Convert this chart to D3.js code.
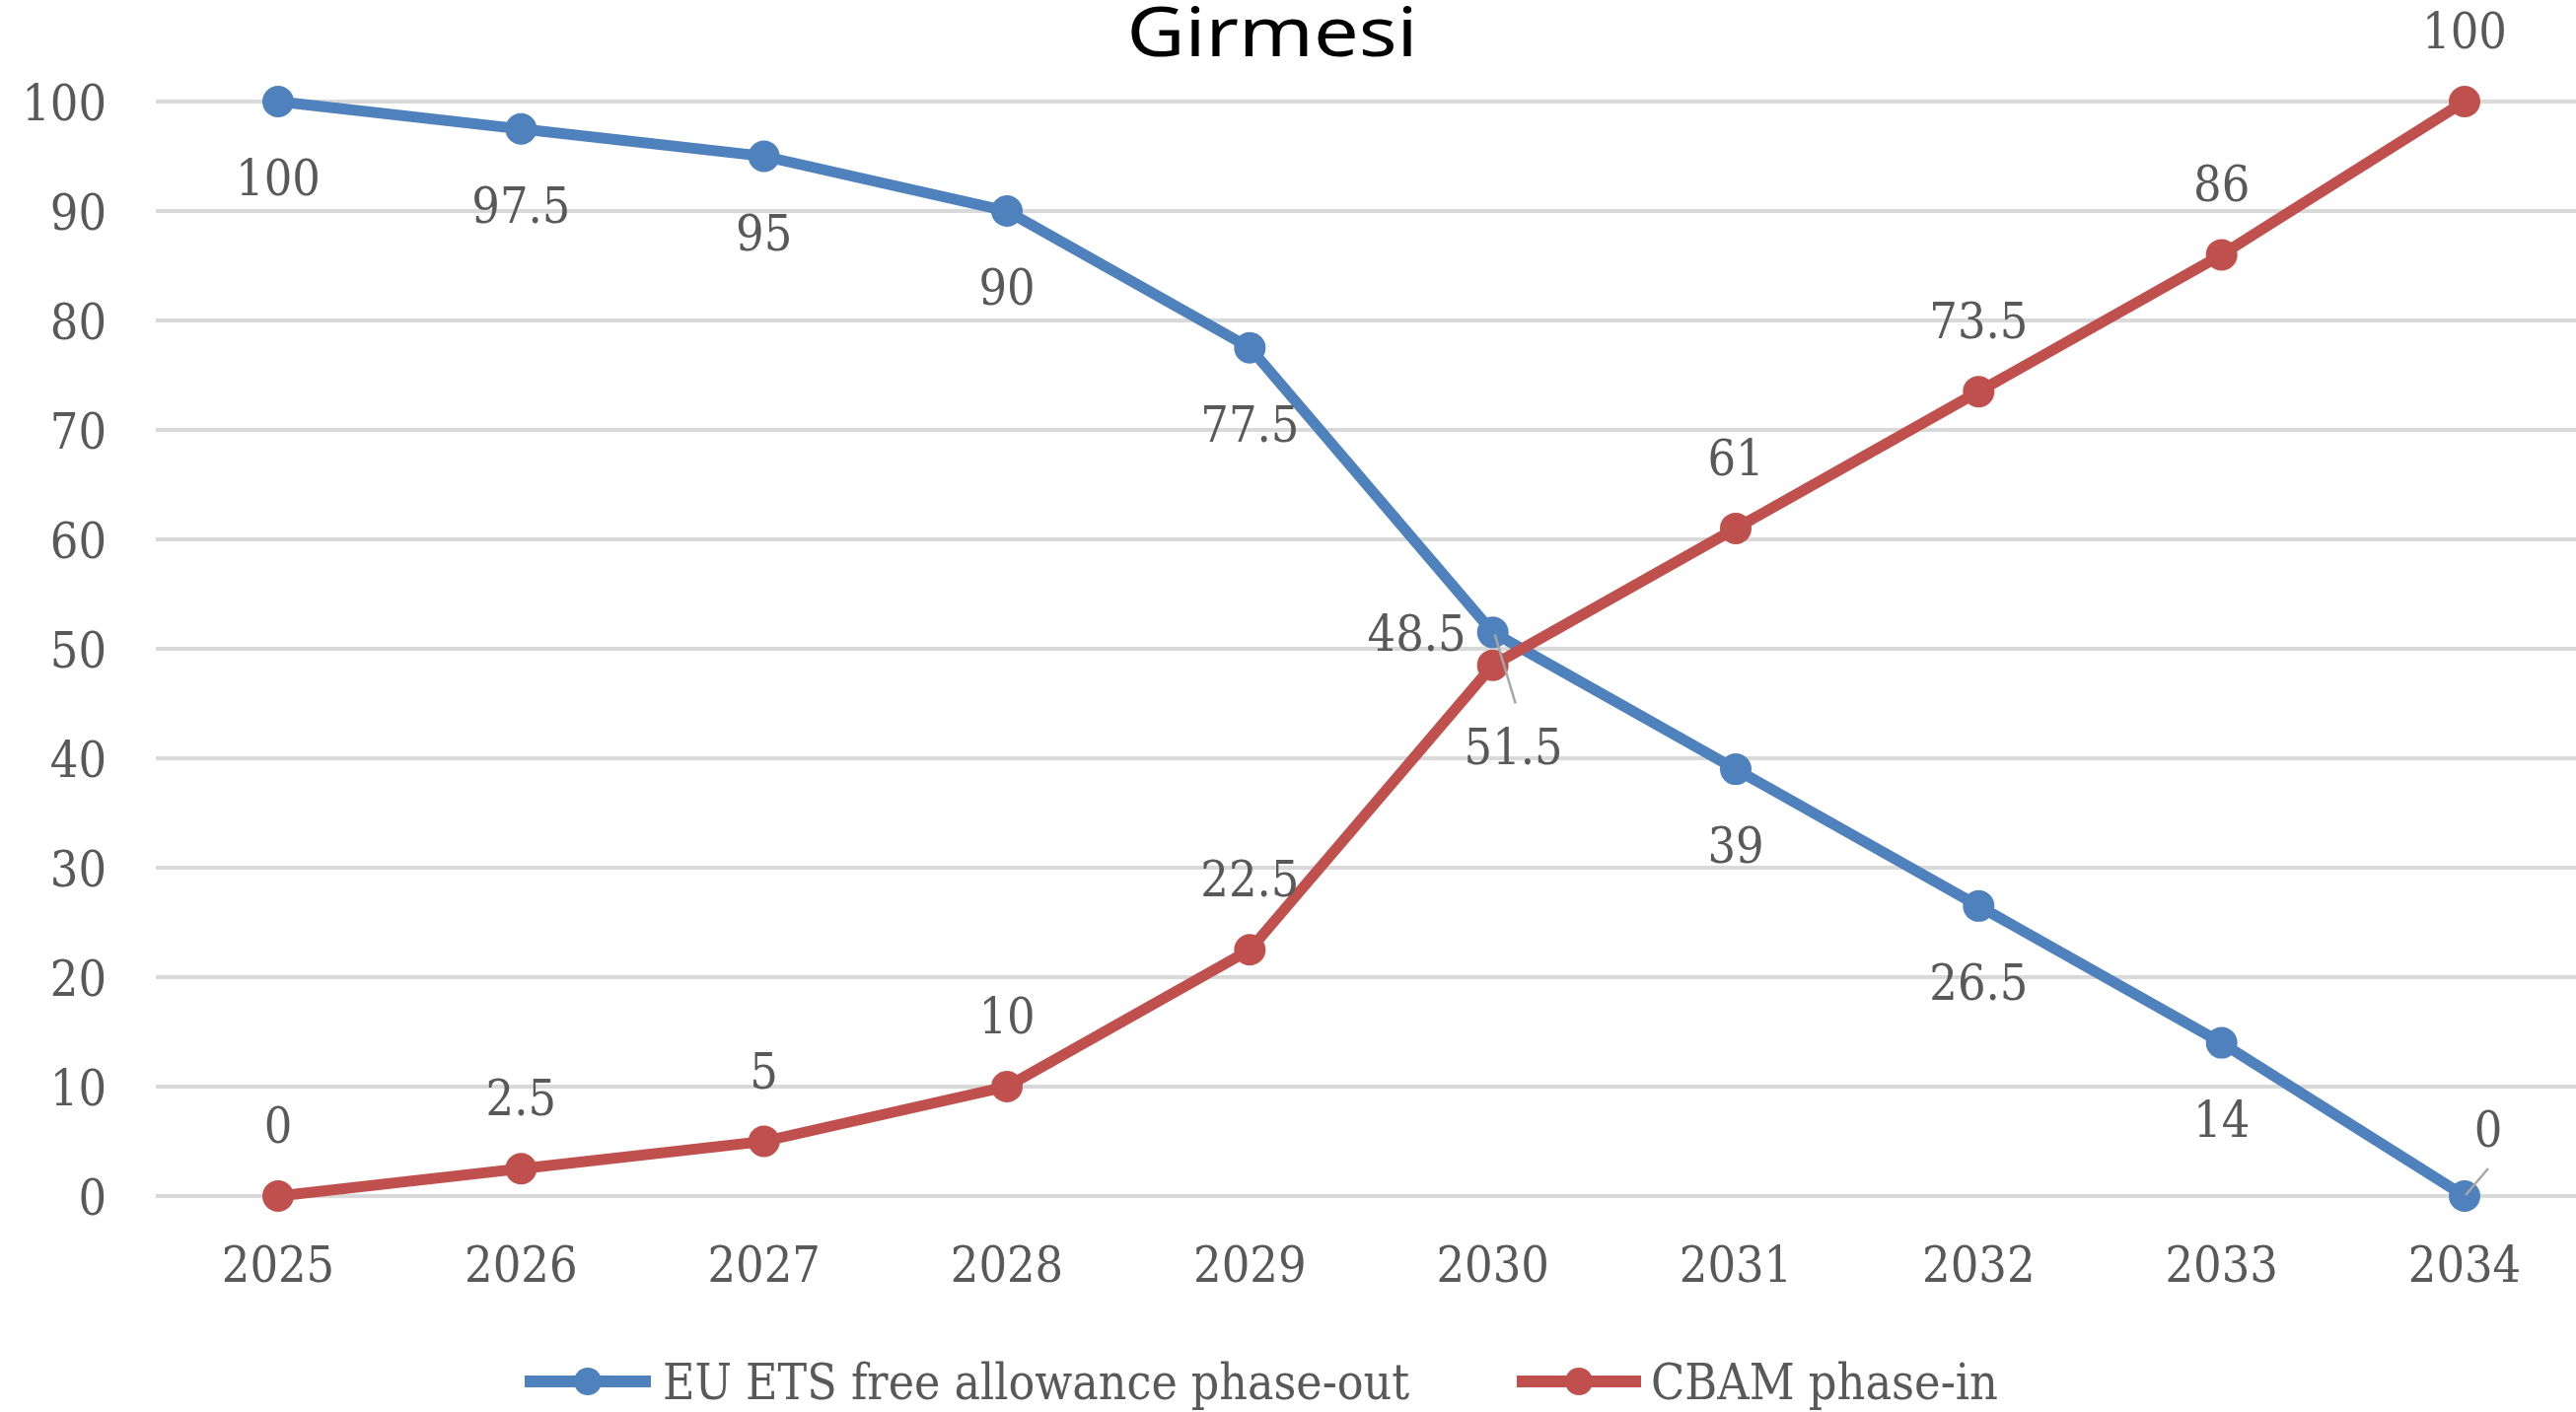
<!DOCTYPE html>
<html>
<head>
<meta charset="utf-8">
<script src="https://cdn.jsdelivr.net/npm/d3@7"></script>
<style>
  body { margin: 0; background: #fff; }
  svg { display: block; }
  .lbl { font-family: "DejaVu Serif Condensed", "DejaVu Serif", serif; font-stretch: condensed; fill: #595959; }
</style>
</head>
<body>
<script>
// data
var years = [2025, 2026, 2027, 2028, 2029, 2030, 2031, 2032, 2033, 2034];
var etsValues = [100, 97.5, 95, 90, 77.5, 51.5, 39, 26.5, 14, 0];
var cbamValues = [0, 2.5, 5, 10, 22.5, 48.5, 61, 73.5, 86, 100];
var yTicks = [0, 10, 20, 30, 40, 50, 60, 70, 80, 90, 100];
var seriesNames = ["EU ETS free allowance phase-out", "CBAM phase-in"];

function init() {
    var W = 2612, H = 1432;
    var blue = "#4f81bd", red = "#c0504d";

    var svg = d3.select("body").append("svg")
        .attr("width", W)
        .attr("height", H);

    // scales
    var x = d3.scalePoint()
        .domain(years)
        .range([282, 2499]);

    var y = d3.scaleLinear()
        .domain([0, 100])
        .range([1213, 103]);

    // title (only the last line is visible)
    svg.append("text")
        .attr("x", 1290)
        .attr("y", 57)
        .attr("text-anchor", "middle")
        .attr("font-family", "'Noto Sans', sans-serif")
        .attr("font-size", 70)
        .attr("textLength", 295)
        .attr("lengthAdjust", "spacingAndGlyphs")
        .attr("fill", "#000")
        .text("Girmesi");

    // gridlines
    svg.append("g").selectAll("line")
        .data(yTicks)
        .enter().append("line")
        .attr("x1", 158)
        .attr("x2", W)
        .attr("y1", function(d) { return y(d); })
        .attr("y2", function(d) { return y(d); })
        .attr("stroke", "#d9d9d9")
        .attr("stroke-width", 4);

    // y axis labels
    svg.append("g").selectAll("text")
        .data(yTicks)
        .enter().append("text")
        .attr("class", "lbl")
        .attr("x", 108)
        .attr("y", function(d) { return y(d) + 19; })
        .attr("text-anchor", "end")
        .attr("font-size", 50)
        .text(function(d) { return d; });

    // x axis labels
    svg.append("g").selectAll("text")
        .data(years)
        .enter().append("text")
        .attr("class", "lbl")
        .attr("x", function(d) { return x(d); })
        .attr("y", 1300)
        .attr("text-anchor", "middle")
        .attr("font-size", 50)
        .text(function(d) { return d; });

    var line = d3.line()
        .x(function(d, i) { return x(years[i]); })
        .y(function(d) { return y(d); });

    function drawSeries(values, color) {
        var g = svg.append("g");
        g.append("path")
            .datum(values)
            .attr("d", line)
            .attr("fill", "none")
            .attr("stroke", color)
            .attr("stroke-width", 11)
            .attr("stroke-linejoin", "round");
        g.selectAll("circle")
            .data(values)
            .enter().append("circle")
            .attr("cx", function(d, i) { return x(years[i]); })
            .attr("cy", function(d) { return y(d); })
            .attr("r", 16)
            .attr("fill", color);
    }

    drawSeries(etsValues, blue);
    drawSeries(cbamValues, red);

    // leader lines for moved labels
    var leaders = [
        [x(2030) + 2, y(51.5) + 2, x(2030) + 23, y(51.5) + 72],
        [x(2034) + 1, y(0) - 1, x(2034) + 24, y(0) - 28]
    ];
    svg.append("g").selectAll("line")
        .data(leaders)
        .enter().append("line")
        .attr("x1", function(d) { return d[0]; })
        .attr("y1", function(d) { return d[1]; })
        .attr("x2", function(d) { return d[2]; })
        .attr("y2", function(d) { return d[3]; })
        .attr("stroke", "#a6a6a6")
        .attr("stroke-width", 2.5);

    // data labels: blue below, red above, a few moved by hand
    svg.append("g").selectAll("text")
        .data(etsValues)
        .enter().append("text")
        .attr("class", "lbl")
        .attr("font-size", 50)
        .attr("text-anchor", "middle")
        .attr("x", function(d, i) {
            if (years[i] === 2030) return x(years[i]) + 21;
            if (years[i] === 2034) return x(years[i]) + 24;
            return x(years[i]);
        })
        .attr("y", function(d, i) {
            if (years[i] === 2030) return y(d) + 134;
            if (years[i] === 2034) return y(d) - 50;
            return y(d) + 95;
        })
        .text(function(d) { return d; });

    svg.append("g").selectAll("text")
        .data(cbamValues)
        .enter().append("text")
        .attr("class", "lbl")
        .attr("font-size", 50)
        .attr("text-anchor", function(d, i) { return years[i] === 2030 ? "end" : "middle"; })
        .attr("x", function(d, i) {
            if (years[i] === 2030) return x(years[i]) - 27;
            return x(years[i]);
        })
        .attr("y", function(d, i) {
            if (years[i] === 2030) return y(d) - 15;
            return y(d) - 54;
        })
        .text(function(d) { return d; });

    // legend
    var legendItems = [
        { name: seriesNames[0], color: blue, x0: 532, x1: 660, tx: 672, tw: 757 },
        { name: seriesNames[1], color: red, x0: 1538, x1: 1664, tx: 1674, tw: 352 }
    ];
    var lg = svg.append("g").selectAll("g")
        .data(legendItems)
        .enter().append("g");
    lg.append("line")
        .attr("x1", function(d) { return d.x0; })
        .attr("x2", function(d) { return d.x1; })
        .attr("y1", 1401)
        .attr("y2", 1401)
        .attr("stroke", function(d) { return d.color; })
        .attr("stroke-width", 12);
    lg.append("circle")
        .attr("cx", function(d) { return (d.x0 + d.x1) / 2; })
        .attr("cy", 1401)
        .attr("r", 14)
        .attr("fill", function(d) { return d.color; });
    lg.append("text")
        .attr("class", "lbl")
        .attr("x", function(d) { return d.tx; })
        .attr("y", 1419)
        .attr("font-size", 51)
        .attr("textLength", function(d) { return d.tw; })
        .attr("lengthAdjust", "spacingAndGlyphs")
        .text(function(d) { return d.name; });
}

window.onload = init;
</script>
</body>
</html>
